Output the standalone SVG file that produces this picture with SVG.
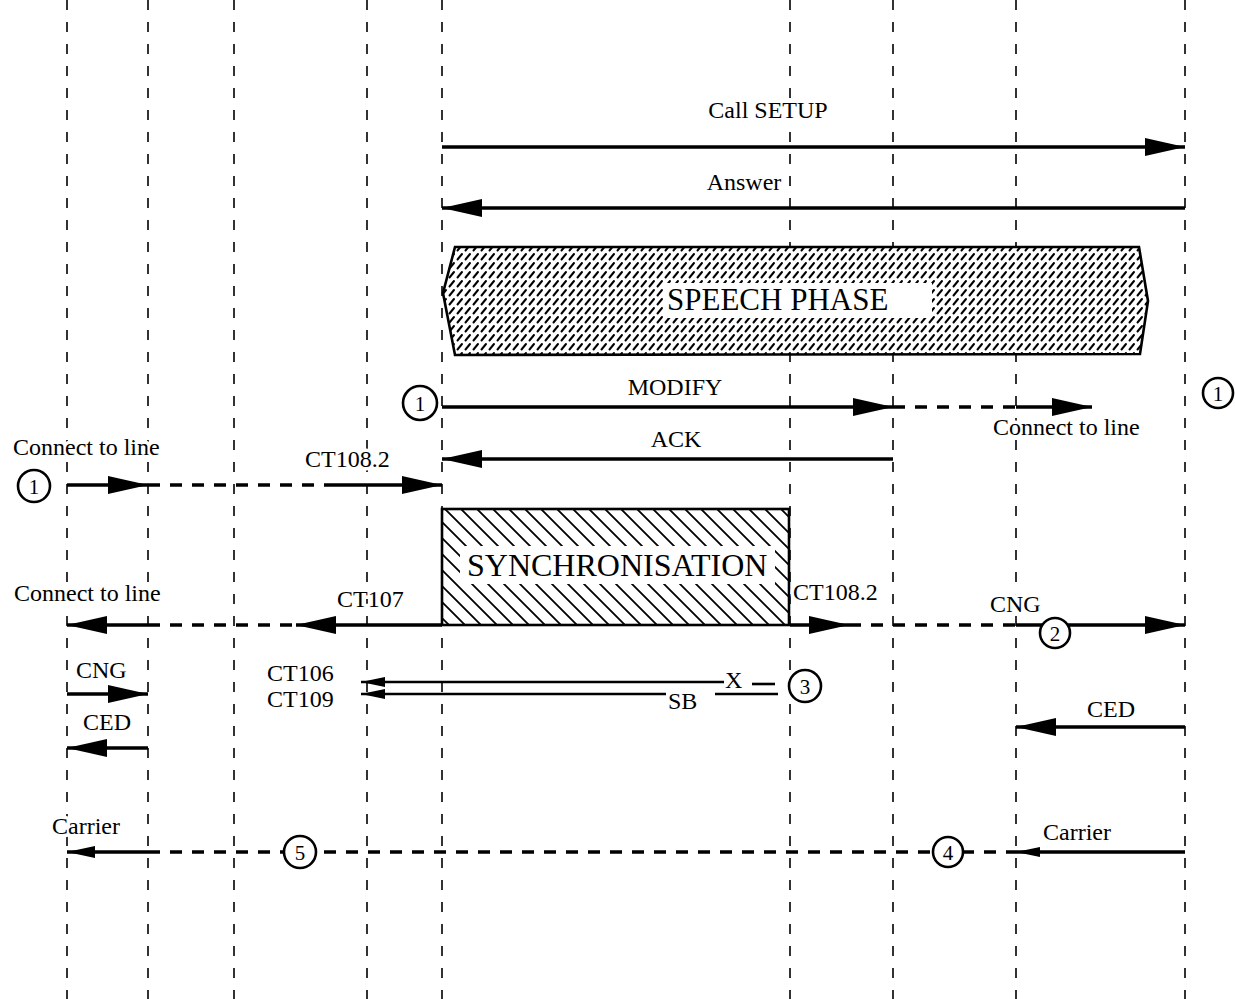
<svg xmlns="http://www.w3.org/2000/svg" width="1235" height="999" viewBox="0 0 1235 999">
<style>
.life{stroke:#000;stroke-width:1.6;stroke-dasharray:10 12;fill:none}
.sol{stroke:#000;stroke-width:3.3;fill:none}
.thin{stroke:#000;stroke-width:2.6;fill:none}
.dsh{stroke:#000;stroke-width:3.3;stroke-dasharray:12 10;fill:none}
.t{font-family:"Liberation Serif","Times New Roman",serif;font-size:24px;fill:#000;stroke:#fff;stroke-width:7;paint-order:stroke;stroke-linejoin:round}
.big{font-family:"Liberation Serif","Times New Roman",serif;fill:#000}
.num{font-family:"Liberation Serif","Times New Roman",serif;font-size:21px;fill:#000;text-anchor:middle}
.circ{fill:#fff;stroke:#000;stroke-width:2.6}
</style>
<defs>
<marker id="ah" markerUnits="userSpaceOnUse" markerWidth="40" markerHeight="20" refX="40" refY="10" orient="auto"><path d="M0,1 L40,10 L0,19 z" fill="#000"/></marker>
<marker id="am" markerUnits="userSpaceOnUse" markerWidth="24" markerHeight="12" refX="24" refY="6" orient="auto"><path d="M0,1 L24,6 L0,11 z" fill="#000"/></marker>
<marker id="as" markerUnits="userSpaceOnUse" markerWidth="28" markerHeight="14" refX="28" refY="7" orient="auto"><path d="M0,1 L28,7 L0,13 z" fill="#000"/></marker>
<pattern id="speech" patternUnits="userSpaceOnUse" width="8" height="9"><path d="M1.5,7.5 L6,2" stroke="#000" stroke-width="2" stroke-linecap="round"/></pattern>
<pattern id="sync" patternUnits="userSpaceOnUse" width="16" height="16"><path d="M0,0 L16,16 M-4,12 L4,20 M12,-4 L20,4" stroke="#000" stroke-width="1.8"/></pattern>
</defs>
<rect width="1235" height="999" fill="#fff"/>
<g id="lifelines">
<line class="life" x1="67" y1="0" x2="67" y2="999"/>
<line class="life" x1="148" y1="0" x2="148" y2="999"/>
<line class="life" x1="234" y1="0" x2="234" y2="999"/>
<line class="life" x1="367" y1="0" x2="367" y2="999"/>
<line class="life" x1="442" y1="0" x2="442" y2="999"/>
<line class="life" x1="790" y1="0" x2="790" y2="999"/>
<line class="life" x1="893" y1="0" x2="893" y2="999"/>
<line class="life" x1="1016" y1="0" x2="1016" y2="999"/>
<line class="life" x1="1185" y1="0" x2="1185" y2="999"/>
</g>
<g id="speech-phase">
<path d="M455,247 L1139,247 L1148,301 L1140,354 L455,355 L443,293 z" fill="#fff"/>
<path d="M455,247 L1139,247 L1148,301 L1140,354 L455,355 L443,293 z" fill="url(#speech)" stroke="#000" stroke-width="2.6"/>
<rect x="663" y="283" width="269" height="35" fill="#fff"/>
<text class="big" x="667" y="310" font-size="31">SPEECH PHASE</text>
</g>
<g id="synchronisation">
<rect x="442" y="509" width="347" height="116" fill="#fff"/>
<rect x="442" y="509" width="347" height="116" fill="url(#sync)" stroke="#000" stroke-width="2.6"/>
<rect x="460" y="546" width="315" height="38" fill="#fff"/>
<text class="big" x="467" y="576" font-size="32">SYNCHRONISATION</text>
</g>
<g id="connectors">
<line class="sol" x1="442" y1="147" x2="1185" y2="147" marker-end="url(#ah)"/>
<line class="sol" x1="1185" y1="208" x2="442" y2="208" marker-end="url(#ah)"/>
<line class="sol" x1="442" y1="407" x2="893" y2="407" marker-end="url(#ah)"/>
<line class="dsh" x1="893" y1="407" x2="1016" y2="407"/>
<line class="sol" x1="1016" y1="407" x2="1092" y2="407" marker-end="url(#ah)"/>
<line class="sol" x1="893" y1="459" x2="442" y2="459" marker-end="url(#ah)"/>
<line class="sol" x1="67" y1="485" x2="148" y2="485" marker-end="url(#ah)"/>
<line class="dsh" x1="148" y1="485" x2="333" y2="485"/>
<line class="sol" x1="333" y1="485" x2="442" y2="485" marker-end="url(#ah)"/>
<line class="sol" x1="148" y1="625" x2="67" y2="625" marker-end="url(#ah)"/>
<line class="dsh" x1="148" y1="625" x2="296" y2="625"/>
<line class="sol" x1="442" y1="625" x2="296" y2="625" marker-end="url(#ah)"/>
<line class="sol" x1="790" y1="625" x2="849" y2="625" marker-end="url(#ah)"/>
<line class="dsh" x1="849" y1="625" x2="1016" y2="625"/>
<line class="sol" x1="1016" y1="625" x2="1185" y2="625" marker-end="url(#ah)"/>
<line class="thin" x1="724" y1="682" x2="361" y2="682" marker-end="url(#am)"/>
<line class="thin" x1="752" y1="684" x2="775" y2="684"/>
<line class="thin" x1="666" y1="694" x2="361" y2="694" marker-end="url(#am)"/>
<line class="thin" x1="715" y1="694" x2="778" y2="694"/>
<line class="sol" x1="67" y1="694" x2="148" y2="694" marker-end="url(#ah)"/>
<line class="sol" x1="148" y1="748" x2="67" y2="748" marker-end="url(#ah)"/>
<line class="sol" x1="1185" y1="727" x2="1016" y2="727" marker-end="url(#ah)"/>
<line class="sol" x1="148" y1="852" x2="67" y2="852" marker-end="url(#as)"/>
<line class="dsh" x1="148" y1="852" x2="1016" y2="852"/>
<line class="sol" x1="1185" y1="852" x2="1016" y2="852" marker-end="url(#am)"/>
</g>
<g id="markers">
<g id="m1a"><circle class="circ" cx="420" cy="403" r="17"/><text class="num" x="420" y="411">1</text></g>
<g id="m1b"><circle class="circ" cx="1218" cy="393" r="15"/><text class="num" x="1218" y="401">1</text></g>
<g id="m1c"><circle class="circ" cx="34" cy="486" r="16"/><text class="num" x="34" y="494">1</text></g>
<g id="m2"><circle class="circ" cx="1055" cy="633" r="15"/><text class="num" x="1055" y="641">2</text></g>
<g id="m3"><circle class="circ" cx="805" cy="686" r="16"/><text class="num" x="805" y="694">3</text></g>
<g id="m4"><circle class="circ" cx="948" cy="852" r="15"/><text class="num" x="948" y="860">4</text></g>
<g id="m5"><circle class="circ" cx="300" cy="852" r="16"/><text class="num" x="300" y="860">5</text></g>
</g>
<g id="labels">
<text class="t" x="768" y="118" text-anchor="middle">Call SETUP</text>
<text class="t" x="744" y="190" text-anchor="middle">Answer</text>
<text class="t" x="675" y="395" text-anchor="middle">MODIFY</text>
<text class="t" x="993" y="435">Connect to line</text>
<text class="t" x="676" y="447" text-anchor="middle">ACK</text>
<text class="t" x="13" y="455">Connect to line</text>
<text class="t" x="305" y="467">CT108.2</text>
<text class="t" x="14" y="601">Connect to line</text>
<text class="t" x="337" y="607">CT107</text>
<text class="t" x="793" y="600">CT108.2</text>
<text class="t" x="990" y="612">CNG</text>
<text class="t" x="267" y="681">CT106</text>
<text class="t" x="267" y="707">CT109</text>
<text class="t" x="725" y="688">X</text>
<text class="t" x="668" y="709">SB</text>
<text class="t" x="76" y="678">CNG</text>
<text class="t" x="83" y="730">CED</text>
<text class="t" x="1087" y="717">CED</text>
<text class="t" x="52" y="834">Carrier</text>
<text class="t" x="1043" y="840">Carrier</text>
</g>
</svg>
